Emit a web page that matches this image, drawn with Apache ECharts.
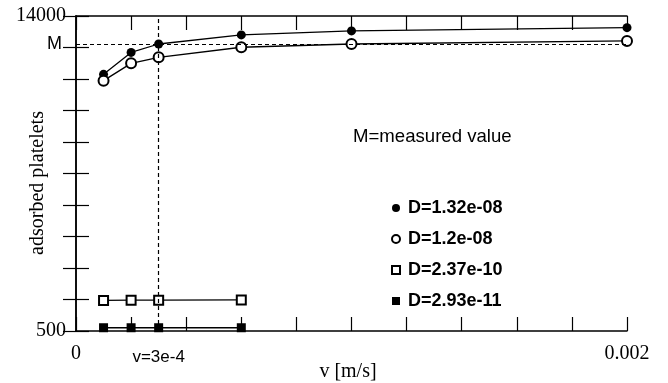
<!DOCTYPE html>
<html>
<head>
<meta charset="utf-8">
<script src="https://cdn.jsdelivr.net/npm/echarts@6/dist/echarts.min.js"></script>
<style>
  html, body { margin: 0; padding: 0; background: #fff; }
  #chart { width: 668px; height: 383px; }
</style>
</head>
<body>
<div id="chart"></div>
<script>
// velocity [m/s]
const velHigh = [0.0001, 0.0002, 0.0003, 0.0006, 0.001, 0.002];
const velLow = [0.0001, 0.0002, 0.0003, 0.0006];

// adsorbed platelets per diffusion coefficient
const d132e08 = [11500, 12440, 12800, 13190, 13360, 13500];
const d12e08 = [11230, 11970, 12230, 12660, 12800, 12930];
const d237e10 = [1810, 1820, 1820, 1830];
const d293e11 = [640, 640, 640, 640];

const seriesNames = ['D=1.32e-08', 'D=1.2e-08', 'D=2.37e-10', 'D=2.93e-11'];

const measuredValue = 12800;
const velMark = 0.0003;

const yTicks = [500, 1850, 3200, 4550, 5900, 7250, 8600, 9950, 11300, 12650, 14000];
const yLabels = [500, 14000];
const xLabels = [0, 0.002];

const serif = 'Liberation Serif';
const sans = 'Liberation Sans';

const chart = echarts.init(document.getElementById('chart'));

function pairs(xs, ys) {
    return xs.map((x, i) => [x, ys[i]]);
}

const lineAxis = { lineStyle: { color: '#000', width: 1.5 } };
const tickStyle = { color: '#000', width: 1.2 };

const options = {
    animation: false,
    backgroundColor: '#fff',
    grid: { left: 76, right: 41, top: 16, bottom: 52, containLabel: false, outerBoundsMode: 'none' },
    xAxis: [
        {
            type: 'value',
            min: 0,
            max: 0.002,
            interval: 0.0002,
            axisLine: lineAxis,
            axisTick: { inside: true, length: 14, lineStyle: tickStyle },
            splitLine: { show: false },
            axisLabel: {
                customValues: xLabels,
                formatter: (v) => String(v),
                margin: 13,
                color: '#000',
                fontFamily: serif,
                fontSize: 20
            }
        },
        {
            type: 'value',
            position: 'top',
            min: 0,
            max: 0.002,
            interval: 0.0002,
            axisLine: lineAxis,
            axisTick: { inside: true, length: 14, lineStyle: tickStyle },
            axisLabel: { show: false },
            splitLine: { show: false }
        }
    ],
    yAxis: [
        {
            type: 'value',
            min: 500,
            max: 14000,
            axisLine: { show: true, lineStyle: { color: '#000', width: 1.5 } },
            axisTick: { inside: true, length: 13, customValues: yTicks, lineStyle: tickStyle },
            splitLine: { show: false },
            axisLabel: {
                customValues: yLabels,
                formatter: (v) => String(v),
                margin: 10,
                color: '#000',
                fontFamily: serif,
                fontSize: 20
            }
        },
        {
            type: 'value',
            position: 'right',
            min: 500,
            max: 14000,
            axisLine: { show: true, lineStyle: { color: '#000', width: 1.5 } },
            axisTick: { inside: true, length: 13, customValues: yTicks, lineStyle: tickStyle },
            axisLabel: { show: false },
            splitLine: { show: false }
        }
    ],
    legend: {
        orient: 'vertical',
        left: 386,
        top: 194,
        itemWidth: 8,
        itemHeight: 8,
        itemGap: 13,
        textStyle: {
            color: '#000',
            fontFamily: sans,
            fontSize: 18,
            fontWeight: 'bold',
            padding: [0, 0, 0, 3]
        },
        data: [
            { name: seriesNames[0], icon: 'circle' },
            { name: seriesNames[1], icon: 'emptyCircle' },
            { name: seriesNames[2], icon: 'emptyRect' },
            { name: seriesNames[3], icon: 'rect' }
        ]
    },
    graphic: [
        {
            type: 'text',
            x: 38,
            y: 183,
            rotation: Math.PI / 2,
            style: {
                text: 'adsorbed platelets',
                fill: '#000',
                font: '20px ' + serif,
                textAlign: 'center',
                textVerticalAlign: 'middle'
            }
        },
        {
            type: 'text',
            x: 348,
            y: 372,
            style: {
                text: 'v [m/s]',
                fill: '#000',
                font: '20px ' + serif,
                textAlign: 'center',
                textVerticalAlign: 'middle'
            }
        },
        {
            type: 'text',
            x: 353,
            y: 137,
            style: {
                text: 'M=measured value',
                fill: '#000',
                font: '18.6px ' + sans,
                textAlign: 'left',
                textVerticalAlign: 'middle'
            }
        }
    ],
    series: [
        {
            name: seriesNames[0],
            type: 'line',
            symbol: 'circle',
            symbolSize: 9,
            itemStyle: { color: '#000' },
            lineStyle: { color: '#000', width: 1.3 },
            data: pairs(velHigh, d132e08),
            z: 3,
            markLine: {
                silent: true,
                symbol: 'none',
                animation: false,
                lineStyle: { color: '#000', type: [4, 3], width: 1.2 },
                data: [
                    {
                        yAxis: measuredValue,
                        label: {
                            show: true,
                            position: 'start',
                            distance: 14,
                            formatter: 'M',
                            color: '#000',
                            fontFamily: sans,
                            fontSize: 18
                        }
                    },
                    [
                        {
                            coord: [velMark, 500],
                            label: {
                                show: true,
                                position: 'start',
                                distance: 18,
                                formatter: 'v=3e-4',
                                color: '#000',
                                fontFamily: sans,
                                fontSize: 17
                            }
                        },
                        { coord: [velMark, 14000] }
                    ]
                ]
            }
        },
        {
            name: seriesNames[1],
            type: 'line',
            symbol: 'emptyCircle',
            symbolSize: 10,
            itemStyle: { color: '#000', borderWidth: 1.3 },
            lineStyle: { color: '#000', width: 1.3 },
            data: pairs(velHigh, d12e08),
            z: 3
        },
        {
            name: seriesNames[2],
            type: 'line',
            symbol: 'emptyRect',
            symbolSize: 9,
            itemStyle: { color: '#000', borderWidth: 1.3 },
            lineStyle: { color: '#000', width: 1.3 },
            data: pairs(velLow, d237e10),
            z: 3
        },
        {
            name: seriesNames[3],
            type: 'line',
            symbol: 'rect',
            symbolSize: 9,
            itemStyle: { color: '#000' },
            lineStyle: { color: '#000', width: 1.3 },
            data: pairs(velLow, d293e11),
            z: 3
        }
    ]
};

chart.setOption(options);
</script>
</body>
</html>
